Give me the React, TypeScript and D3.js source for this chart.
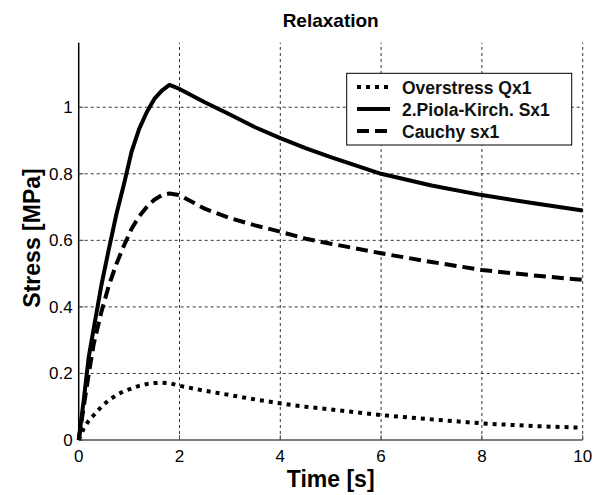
import React from 'react';
import * as d3 from 'd3';

// time samples [s]
const time = [0, 0.1, 0.2, 0.3, 0.45, 0.6, 0.75, 0.9, 1.05, 1.2, 1.35, 1.5, 1.65, 1.8, 2, 2.5, 3, 3.5, 4, 4.5, 5, 6, 7, 8, 9, 10];

// stress values [MPa]
const overstress = [0, 0.035, 0.058, 0.075, 0.1, 0.12, 0.135, 0.147, 0.155, 0.163, 0.168, 0.171, 0.172, 0.171, 0.163, 0.148, 0.135, 0.122, 0.11, 0.1, 0.092, 0.075, 0.062, 0.05, 0.042, 0.037];
const piolaKirchhoff = [0, 0.12, 0.25, 0.337, 0.465, 0.575, 0.68, 0.77, 0.867, 0.935, 0.985, 1.025, 1.05, 1.067, 1.055, 1.015, 0.978, 0.94, 0.907, 0.877, 0.85, 0.8, 0.765, 0.736, 0.712, 0.69];
const cauchy = [0, 0.1, 0.2, 0.29, 0.385, 0.465, 0.53, 0.585, 0.635, 0.672, 0.7, 0.722, 0.736, 0.741, 0.736, 0.695, 0.667, 0.645, 0.626, 0.605, 0.59, 0.561, 0.535, 0.511, 0.495, 0.481];

const xTicks = [0, 2, 4, 6, 8, 10];
const yTicks = [0, 0.2, 0.4, 0.6, 0.8, 1];

const seriesNames = ['Overstress Qx1', '2.Piola-Kirch. Sx1', 'Cauchy sx1'];
const seriesValues = [overstress, piolaKirchhoff, cauchy];
const seriesDash = ['4,5', '', '12,6'];

const W = 599;
const H = 495;
const left = 78.7;
const right = 582.7;
const top = 42.7;
const bottom = 440;

export default function App() {
  const x = d3.scaleLinear().domain([0, 10]).range([left, right]);
  const y = d3.scaleLinear().domain([0, 1.194]).range([bottom, top]);

  const line = d3
    .line<number>()
    .x((_, i) => x(time[i]))
    .y((d) => y(d));

  const font = 'Liberation Sans, Arial, Helvetica, sans-serif';

  return (
    <div style={{ position: 'absolute', left: 0, top: 0 }}>
      <svg width={W} height={H} style={{ display: 'block', background: '#fff' }} fontFamily={font}>
        {/* grid */}
        <g stroke="#333" strokeWidth={1} strokeDasharray="3,3">
          {xTicks.filter((t) => t > 0).map((t) => (
            <line key={'gx' + t} x1={x(t)} x2={x(t)} y1={bottom} y2={top} />
          ))}
          {yTicks.filter((t) => t > 0).map((t) => (
            <line key={'gy' + t} x1={left} x2={right} y1={y(t)} y2={y(t)} />
          ))}
        </g>

        {/* axes */}
        <line x1={left} x2={right} y1={bottom} y2={bottom} stroke="#555" strokeWidth={1.5} />
        <line x1={left} x2={left} y1={bottom} y2={top} stroke="#000" strokeWidth={1.5} />
        <g stroke="#555" strokeWidth={1}>
          {xTicks.map((t) => (
            <line key={'tx' + t} x1={x(t)} x2={x(t)} y1={bottom} y2={bottom - 5} />
          ))}
          {yTicks.map((t) => (
            <line key={'ty' + t} x1={left} x2={left + 5} y1={y(t)} y2={y(t)} />
          ))}
        </g>

        {/* tick labels */}
        <g fontSize={17} fill="#000">
          {xTicks.map((t) => (
            <text key={'lx' + t} x={x(t)} y={bottom + 22} textAnchor="middle">
              {t}
            </text>
          ))}
          {yTicks.map((t) => (
            <text key={'ly' + t} x={left - 6} y={y(t) + 6} textAnchor="end">
              {t}
            </text>
          ))}
        </g>

        {/* series */}
        {seriesValues.map((vals, i) => (
          <path
            key={seriesNames[i]}
            d={line(vals) ?? ''}
            fill="none"
            stroke="#000"
            strokeWidth={4}
            strokeDasharray={seriesDash[i] || undefined}
            strokeLinejoin="round"
          />
        ))}

        {/* legend */}
        <g>
          <rect x={346.7} y={73.3} width={225} height={71.7} fill="#fff" stroke="#000" strokeWidth={1} />
          {seriesNames.map((name, i) => {
            const ly = 87 + i * 22;
            return (
              <g key={'lg' + name}>
                <line x1={357} x2={390} y1={ly} y2={ly} stroke="#000" strokeWidth={4} strokeDasharray={seriesDash[i] || undefined} />
                <text x={402} y={ly + 6.5} fontSize={17.5} fontWeight="bold" fill="#111">
                  {name}
                </text>
              </g>
            );
          })}
        </g>

        {/* titles */}
        <text x={(left + right) / 2} y={27} textAnchor="middle" fontSize={19} fontWeight="bold">
          Relaxation
        </text>
        <text x={(left + right) / 2} y={487} textAnchor="middle" fontSize={23} fontWeight="bold">
          Time [s]
        </text>
        <text transform={`translate(40, 238) rotate(-90)`} textAnchor="middle" fontSize={23} fontWeight="bold">
          Stress [MPa]
        </text>
      </svg>
    </div>
  );
}
